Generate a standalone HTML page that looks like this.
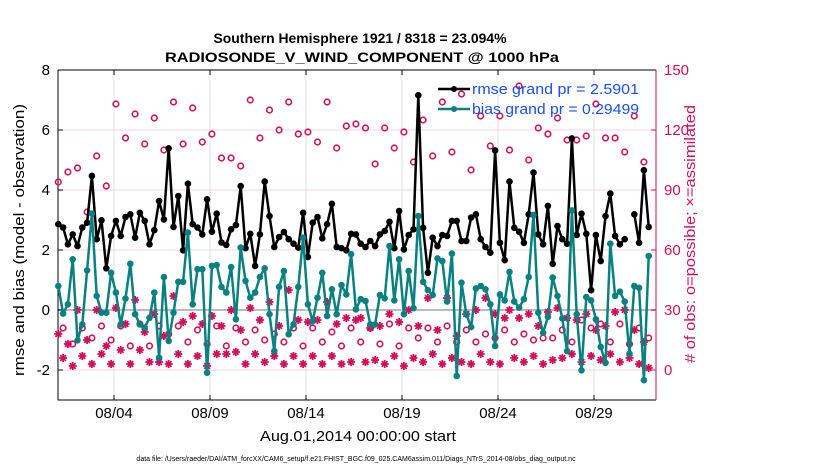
<!DOCTYPE html>
<html><head><meta charset="utf-8"><style>
body{margin:0;background:#fff;}
svg{display:block;font-family:"Liberation Sans",sans-serif;}
</style></head><body>
<svg id="chart" width="830" height="470" viewBox="0 0 830 470">
<rect width="830" height="470" fill="#fff"/>
<g id="grid"></g><g id="axes"></g><g id="marks"></g>
<text x="360" y="43" text-anchor="middle" font-size="14" font-weight="bold" textLength="293" lengthAdjust="spacingAndGlyphs">Southern Hemisphere 1921 / 8318 = 23.094%</text>
<text x="362" y="62" text-anchor="middle" font-size="14" font-weight="bold" textLength="394" lengthAdjust="spacingAndGlyphs">RADIOSONDE_V_WIND_COMPONENT @ 1000 hPa</text>
<text transform="translate(24,240) rotate(-90)" text-anchor="middle" font-size="15" textLength="272" lengthAdjust="spacingAndGlyphs">rmse and bias (model - observation)</text>
<text transform="translate(695,234) rotate(-90)" text-anchor="middle" font-size="15" fill="#d1105a" textLength="258" lengthAdjust="spacingAndGlyphs"># of obs: o=possible; ×=assimilated</text>
<text x="358" y="441" text-anchor="middle" font-size="15" textLength="196" lengthAdjust="spacingAndGlyphs">Aug.01,2014 00:00:00 start</text>
<text x="356" y="461" text-anchor="middle" font-size="7">data file: /Users/raeder/DAI/ATM_forcXX/CAM6_setup/f.e21.FHIST_BGC.f09_025.CAM6assim.011/Diags_NTrS_2014-08/obs_diag_output.nc</text>
<g id="legend-layer"></g>
</svg>
<script>
const rmse=[2.86,2.75,2.19,2.52,2.13,2.75,2.91,4.47,2.36,2.99,1.39,2.47,2.97,2.47,3.1,3.19,2.41,3.24,2.97,2.19,2.66,3.63,3.02,5.39,2.77,3.8,1.99,4.21,2.86,2.75,2.52,3.69,
2.61,3.21,2.25,2.17,2.69,2.83,4.13,2.06,2.54,1.47,2.52,4.28,3.13,2.1,2.43,2.6,2.36,2.21,2.08,3.24,1.77,2.91,3.1,2.39,2.86,3.54,2.1,2.06,1.99,2.54,2.52,
2.21,2.1,2.3,2.13,2.52,2.63,2.94,2.06,3.3,2.02,2.5,2.69,7.16,2.74,1.24,2.41,2.13,2.5,2.47,2.97,2.97,2.3,2.3,3.08,3.19,2.36,2.1,1.91,5.32,2.24,1.66,
4.28,2.74,2.61,2.24,3.19,4.58,2.52,2.19,3.47,1.54,2.8,2.36,2.21,5.72,2.5,3.21,2.54,0.66,2.5,1.63,3.13,3.88,2.47,2.19,2.36,null,3.19,2.24,4.66,2.77];
const bias=[0.8,-0.12,0.19,1.69,-1.01,-0.48,1.32,3.21,0.47,-0.09,-0.09,1.24,0.58,-0.48,0.38,1.54,-0.14,-0.48,-0.59,-0.26,0.58,-1.59,1.1,-1.03,-0.09,0.94,0.94,2.58,0.19,1.36,1.36,-2.09,
1.47,1.5,0.77,0.58,1.43,-0.31,2.08,0.97,0.41,0.58,1.1,1.39,-0.14,-1.37,0.77,1.3,-0.81,-0.48,0.77,2.41,0.19,-0.37,0.41,1.24,-0.2,0.69,-0.14,0.83,0.52,1.86,0.02,
0.36,0.3,-0.48,-0.48,0.5,0.39,2.13,0.32,1.69,-0.14,1.3,0.06,3.13,0.94,0.66,0.5,1.72,1.63,0.28,1.88,-2.2,0.91,-0.14,-0.57,0.72,0.8,0.69,0.19,-1.2,0.52,0.32,
1.27,0.28,0.08,0.36,1.1,3.17,-0.09,-0.76,-0.23,1.08,0.47,-0.28,-1.37,3.32,-0.14,-2.01,0.43,0.32,-0.31,-1.23,-1.76,2.21,0.47,0.61,0.28,-1.46,0.8,0.74,-2.34,1.8];
const possible=[94,21,99,13,101,21,79,16,107,22,92,15,133,22,116,12,128,23,113,12,126,22,110,18,134,22,113,14,131,20,114,13,
118,22,106,12,106,21,102,14,135,20,116,15,130,18,120,14,134,21,118,12,119,21,114,14,134,19,111,12,122,21,123,
14,121,21,103,13,121,23,111,12,119,21,104,16,125,21,107,14,134,22,109,14,138,20,100,14,127,18,112,16,127,20,
110,14,142,18,105,15,121,16,118,16,126,20,115,14,115,25,117,21,133,23,116,14,116,23,109,13,127,21,104,16];
const assim=[18,6,13,2,30,7,15,3,30,8,12,3,31,10,23,3,35,10,19,4,28,4,17,3,37,8,24,3,27,7,23,2,
27,8,22,8,30,9,20,3,31,8,25,4,34,7,22,3,40,7,25,3,24,7,25,3,34,7,23,3,26,4,25,
26,4,21,5,22,3,28,7,24,2,30,6,22,4,36,8,20,3,36,6,17,4,28,3,30,8,36,4,28,3,26,
30,6,26,4,28,7,22,3,29,5,31,6,26,8,25,4,28,7,20,5,22,8,29,4,30,6,20,3,14,1];
const xTicks=["08/04","08/09","08/14","08/19","08/24","08/29"];
const xTickDays=[3,8,13,18,23,28];
const leftTicks=[-2,0,2,4,6,8];
const rightTicks=[0,30,60,90,120,150];
const stepDays=0.25;

const NS="http://www.w3.org/2000/svg";
const L=58,R=656,T=70,B=400;
const x=d=>56.4+19.2*d;
const yL=v=>310-30*v;
const yR=v=>370-2*v;
const RED="#d1105a",TEAL="#0a8080";
function mk(tag,at,parent){const e=document.createElementNS(NS,tag);for(const k in at)e.setAttribute(k,at[k]);parent.appendChild(e);return e;}
const grid=document.getElementById('grid'),axes=document.getElementById('axes'),marks=document.getElementById('marks'),leg=document.getElementById('legend-layer');
leftTicks.forEach(v=>{
  const g=mk('line',{x1:L,x2:R,y1:yL(v),y2:yL(v),stroke:v===0?'#bbb':'#f0d6e0','stroke-width':v===0?2:1},grid);
  
  
  mk('line',{x1:L,x2:L+5,y1:yL(v),y2:yL(v),stroke:'#000'},axes);
  const t=mk('text',{x:L-8,y:yL(v)+5,'text-anchor':'end','font-size':15},axes);t.textContent=v;
  
  
});
rightTicks.forEach(v=>{
  mk('line',{x1:R-5,x2:R,y1:yR(v),y2:yR(v),stroke:RED},axes);
  const t=mk('text',{x:R+8,y:yR(v)+5,'font-size':15,fill:RED},axes);t.textContent=v;
  
  
});
xTicks.forEach((s,i)=>{
  const xx=x(xTickDays[i]);
  const g=mk('line',{x1:xx,x2:xx,y1:T,y2:B,stroke:'#e2e2e2'},grid);
  
  
  mk('line',{x1:xx,x2:xx,y1:B,y2:B-5,stroke:'#000'},axes);
  mk('line',{x1:xx,x2:xx,y1:T,y2:T+5,stroke:'#000'},axes);
  const t=mk('text',{x:xx,y:B+18,'text-anchor':'middle','font-size':15},axes);t.textContent=s;
  
  
});
mk('path',{d:`M${L},${T}H${R}M${L},${T}V${B}H${R}`,stroke:'#000',fill:'none'},axes);
mk('line',{x1:R,x2:R,y1:T,y2:B,stroke:RED},axes);

possible.forEach((v,i)=>{
  const c=mk('circle',{cx:x(i*stepDays)+1.9,cy:yR(v),r:2.8,fill:'none',stroke:RED,'stroke-width':1.6},marks);
  
  
});
assim.forEach((v,i)=>{
  const cx=x(i*stepDays)+1.9,cy=yR(v),r=4;
  const g=mk('g',{stroke:RED,'stroke-width':1.8},marks);
  
  
  for(let a=0;a<4;a++){const an=a*Math.PI/4;mk('line',{x1:cx-r*Math.cos(an),y1:cy-r*Math.sin(an),x2:cx+r*Math.cos(an),y2:cy+r*Math.sin(an)},g);}
});
function series(arr,col,name){
  let d='',pen=false;
  arr.forEach((v,i)=>{if(v===null){pen=false;return;}d+=(pen?'L':'M')+(x(i*stepDays)+1.9).toFixed(1)+','+yL(v).toFixed(1);pen=true;});
  const p=mk('path',{d:d,stroke:col,'stroke-width':2.5,fill:'none','stroke-linejoin':'round'},marks);
  
  
  arr.forEach((v,i)=>{if(v===null)return;
    const c=mk('circle',{cx:x(i*stepDays)+1.9,cy:yL(v),r:3.3,fill:col},marks);
    
    
  });
}
series(rmse,'#000','rmse');
series(bias,TEAL,'bias');
// legend on top
[['rmse grand pr = 2.5901','#000',89,'legend-rmse'],['bias grand pr = 0.29499',TEAL,109,'legend-bias']].forEach(e=>{
  mk('line',{x1:438,x2:470,y1:e[2],y2:e[2],stroke:e[1],'stroke-width':2.5},leg);
  mk('circle',{cx:454,cy:e[2],r:3,fill:e[1]},leg);
  const t=mk('text',{x:472,y:e[2]+5,'font-size':15,fill:'#1a4dff',textLength:167,lengthAdjust:'spacingAndGlyphs'},leg);
  t.textContent=e[0];
  
  
});
</script>
</body></html>
